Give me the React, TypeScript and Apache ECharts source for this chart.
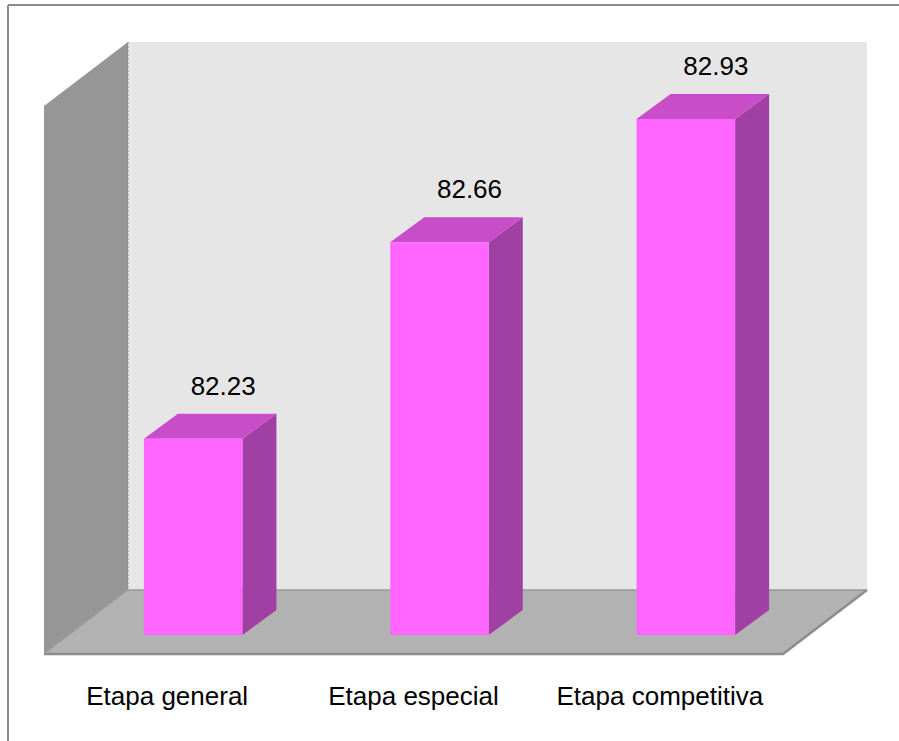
import React, { useEffect, useRef } from "react";
import * as echarts from "echarts";

const categories = ["Etapa general", "Etapa especial", "Etapa competitiva"];
const values = [82.23, 82.66, 82.93];
const valueMin = 81.8;
const valueMax = 83.0;

// 3D look: offsets of the floor/back wall from the plane of the bar fronts
const FRONT = { x: -26, y: 19 };
const BACK = { x: 58, y: -45 };
const BAR_DEPTH = { x: 34, y: -25 };
const FONT = "'Liberation Sans', Arial, Helvetica, sans-serif";

export default function App() {
  const ref = useRef<HTMLDivElement>(null);

  useEffect(() => {
    document.body.style.margin = "0";
    const chart = echarts.init(ref.current!, null, { renderer: "svg" });

    const renderWalls = (params: any) => {
      const cs = params.coordSys;
      const L = cs.x;
      const R = cs.x + cs.width;
      const T = cs.y;
      const B = cs.y + cs.height;
      const p = (x: number, y: number, o: { x: number; y: number }) => [x + o.x, y + o.y];
      return {
        type: "group",
        children: [
          {
            type: "polygon",
            shape: { points: [p(L, T, BACK), p(R, T, BACK), p(R, B, BACK), p(L, B, BACK)] },
            style: { fill: "#e6e6e6" },
          },
          {
            type: "polygon",
            shape: { points: [p(L, T, FRONT), p(L, T, BACK), p(L, B, BACK), p(L, B, FRONT)] },
            style: { fill: "#969696" },
          },
          {
            type: "line",
            shape: { x1: L + BACK.x, y1: T + BACK.y, x2: L + BACK.x, y2: B + BACK.y },
            style: { stroke: "#8a8a8a", lineWidth: 1, lineDash: [2, 2] },
          },
          {
            type: "polygon",
            shape: { points: [p(L, B, FRONT), p(L, B, BACK), p(R, B, BACK), p(R, B, FRONT)] },
            style: { fill: "#b2b2b2" },
          },
          {
            type: "line",
            shape: { x1: L + BACK.x, y1: B + BACK.y, x2: R + BACK.x, y2: B + BACK.y },
            style: { stroke: "#999999", lineWidth: 1.5 },
          },
          {
            type: "line",
            shape: { x1: L + FRONT.x, y1: B + FRONT.y, x2: L + BACK.x, y2: B + BACK.y },
            style: { stroke: "#9a9a9a", lineWidth: 1 },
          },
          {
            type: "polyline",
            shape: { points: [p(L, B, FRONT), p(R, B, FRONT), p(R, B, BACK)] },
            style: { stroke: "#8c8c8c", lineWidth: 2.5, fill: null },
          },
        ],
      };
    };

    const renderBar = (params: any, api: any) => {
      const idx = api.value(0);
      const v = api.value(1);
      const top = api.coord([idx, v]);
      const bottom = api.coord([idx, valueMin]);
      const band = api.size([1, 0])[0];
      const w = band * 0.4;
      const x0 = top[0] - w / 2;
      const x1 = top[0] + w / 2;
      const yT = top[1];
      const yB = bottom[1];
      const dx = BAR_DEPTH.x;
      const dy = BAR_DEPTH.y;
      return {
        type: "group",
        children: [
          {
            type: "polygon",
            shape: { points: [[x1, yT], [x1 + dx, yT + dy], [x1 + dx, yB + dy], [x1, yB]] },
            style: { fill: "#a040a3" },
          },
          {
            type: "polygon",
            shape: { points: [[x0, yT], [x0 + dx, yT + dy], [x1 + dx, yT + dy], [x1, yT]] },
            style: { fill: "#c84dc8" },
          },
          {
            type: "rect",
            shape: { x: x0, y: yT, width: w, height: yB - yT },
            style: { fill: "#ff66ff" },
          },
          {
            type: "text",
            x: top[0] + 30,
            y: yT - 53,
            style: {
              text: v.toFixed(2),
              fill: "#000000",
              font: `26px ${FONT}`,
              align: "center",
              verticalAlign: "middle",
            },
          },
        ],
      };
    };

    chart.setOption({
      animation: false,
      backgroundColor: "#ffffff",
      grid: { left: 70, right: 90, top: 87, bottom: 106, containLabel: false },
      xAxis: {
        type: "category",
        data: categories,
        axisLine: { show: false },
        axisTick: { show: false },
        splitLine: { show: false },
        axisLabel: {
          color: "#000000",
          fontSize: 26,
          fontFamily: FONT,
          margin: 48,
          padding: [0, 52, 0, 0],
          interval: 0,
        },
      },
      yAxis: {
        type: "value",
        min: valueMin,
        max: valueMax,
        show: false,
        splitLine: { show: false },
      },
      graphic: [
        {
          type: "line",
          shape: { x1: 8, y1: 5, x2: 899, y2: 5 },
          style: { stroke: "#8c8c8c", lineWidth: 2 },
        },
        {
          type: "line",
          shape: { x1: 8, y1: 5, x2: 8, y2: 741 },
          style: { stroke: "#8c8c8c", lineWidth: 2 },
        },
      ],
      series: [
        {
          type: "custom",
          z: 1,
          silent: true,
          data: [[0, valueMin]],
          renderItem: renderWalls,
        },
        {
          type: "custom",
          z: 2,
          data: values.map((v, i) => [i, v]),
          encode: { x: 0, y: 1 },
          renderItem: renderBar,
        },
      ],
    });

    return () => chart.dispose();
  }, []);

  return <div ref={ref} style={{ width: 899, height: 741 }} />;
}
